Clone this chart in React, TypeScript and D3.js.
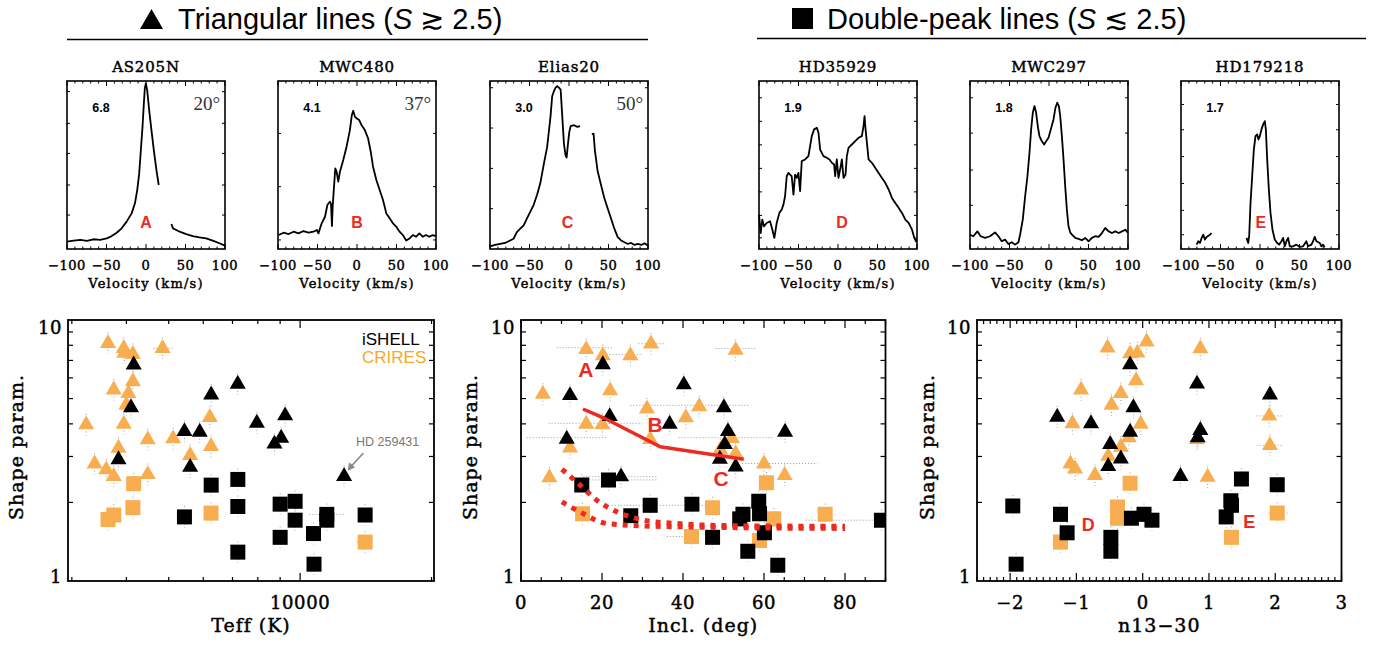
import React from 'react';
import * as d3 from 'd3';

type P = [number, number] | null;

const ORANGE = '#F8AE50';
const LEGEND_ORANGE = '#F9A825';
const RED = '#EC2A1F';
const SERIF = "'DejaVu Serif', serif";
const SANS = "'Liberation Sans', Arial, sans-serif";

// ---------- line profiles (velocity km/s, normalized flux) ----------
const profAS205N: P[] = [
  [-100, 0.044], [-91.6, 0.05], [-83.2, 0.054], [-74.8, 0.048], [-66.5, 0.058], [-58.1, 0.054], [-49.7, 0.063],
  [-43.4, 0.077], [-37.1, 0.097], [-30.8, 0.123], [-24.5, 0.163], [-18.2, 0.212], [-14.0, 0.272], [-11.1, 0.351],
  [-8.6, 0.45], [-6.5, 0.589], [-4.4, 0.728], [-2.7, 0.867], [-1.5, 0.956], [-0.2, 0.986], [1.5, 0.946], [4.0, 0.827],
  [6.9, 0.708], [9.9, 0.589], [13.2, 0.47], [16.1, 0.381], null,
  [32.1, 0.149], [34.2, 0.123], [38.4, 0.113], [42.6, 0.103], [50.9, 0.089], [59.3, 0.077], [67.7, 0.069],
  [76.1, 0.063], [84.5, 0.05], [92.9, 0.034], [100, 0.02],
];
const profMWC480: P[] = [
  [-99.2, 0.083], [-92.9, 0.097], [-86.6, 0.089], [-80.3, 0.103], [-74.0, 0.093], [-67.7, 0.107], [-61.4, 0.097],
  [-55.1, 0.103], [-50.9, 0.113], [-48.8, 0.093], [-44.7, 0.153], [-40.5, 0.192], [-37.5, 0.262], [-34.2, 0.282],
  [-32.9, 0.268], [-31.7, 0.137], [-30.8, 0.252], [-29.1, 0.371], [-27.5, 0.48], [-25.8, 0.46], [-23.7, 0.401],
  [-21.6, 0.46], [-17.4, 0.53], [-13.2, 0.609], [-9.0, 0.708], [-6.5, 0.798], [-4.8, 0.823], [-2.7, 0.788],
  [-0.6, 0.778], [2.7, 0.768], [5.7, 0.738], [9.9, 0.708], [14.0, 0.659], [17.4, 0.579], [20.3, 0.49], [24.5, 0.411],
  [28.7, 0.351], [32.9, 0.292], [37.1, 0.212], [41.3, 0.183], [45.5, 0.153], [49.7, 0.133], [53.9, 0.103],
  [58.1, 0.083], [62.3, 0.05], [66.5, 0.063], [70.7, 0.083], [74.8, 0.073], [79.0, 0.093], [83.2, 0.073],
  [87.4, 0.083], [91.6, 0.073], [95.8, 0.083], [100, 0.077],
];
const profElias20: P[] = [
  [-100, 0.016], [-93.6, 0.024], [-87.2, 0.03], [-80.9, 0.036], [-74.5, 0.051], [-70.2, 0.061], [-66.0, 0.101],
  [-61.7, 0.121], [-57.4, 0.141], [-53.2, 0.182], [-48.9, 0.222], [-44.7, 0.263], [-40.4, 0.323], [-36.2, 0.394],
  [-31.9, 0.505], [-27.7, 0.606], [-23.4, 0.788], [-21.3, 0.909], [-19.1, 0.939], [-17.0, 0.96], [-14.9, 0.97],
  [-12.8, 0.96], [-10.6, 0.949], [-8.5, 0.788], [-6.4, 0.626], [-4.3, 0.556], [-3.0, 0.545], [-1.3, 0.626],
  [0.4, 0.697], [2.1, 0.731], [6.4, 0.737], [10.6, 0.727], [14.0, 0.731], null,
  [28.9, 0.683], [31.1, 0.687], [32.8, 0.586], [36.2, 0.465], [40.4, 0.384], [44.7, 0.303], [48.9, 0.242],
  [53.2, 0.182], [57.4, 0.121], [61.7, 0.071], [66.0, 0.051], [70.2, 0.04], [74.5, 0.03], [78.7, 0.036],
  [83.0, 0.024], [87.2, 0.03], [91.5, 0.024], [95.7, 0.034], [100, 0.02],
];
const profHD35929: P[] = [
  [-100, 0.205], [-97.9, 0.095], [-95.8, 0.175], [-93.7, 0.135], [-90.3, 0.155], [-86.0, 0.165], [-83.1, 0.115],
  [-80.5, 0.066], [-77.6, 0.155], [-74.2, 0.215], [-71.2, 0.235], [-69.1, 0.264], [-67.0, 0.314], [-64.9, 0.433],
  [-62.8, 0.453], [-60.7, 0.443], [-58.6, 0.433], [-56.4, 0.324], [-54.3, 0.443], [-52.2, 0.423], [-50.1, 0.453],
  [-48.0, 0.344], [-45.9, 0.523], [-41.6, 0.533], [-37.4, 0.553], [-33.2, 0.672], [-30.2, 0.712], [-26.8, 0.722],
  [-24.7, 0.692], [-22.6, 0.592], [-18.4, 0.553], [-14.2, 0.543], [-10.8, 0.533], [-7.8, 0.513], [-4.9, 0.503],
  [-3.6, 0.433], [-1.5, 0.533], [0.6, 0.423], [2.7, 0.473], [4.9, 0.533], [7.0, 0.423], [9.5, 0.443], [11.2, 0.553],
  [13.3, 0.602], [15.4, 0.612], [17.5, 0.622], [21.8, 0.642], [26.0, 0.662], [30.2, 0.672], [32.3, 0.732],
  [33.6, 0.791], [34.9, 0.712], [38.7, 0.533], [42.9, 0.513], [47.1, 0.483], [51.4, 0.453], [55.6, 0.423],
  [59.8, 0.394], [64.1, 0.354], [68.3, 0.304], [72.5, 0.274], [76.7, 0.245], [81.0, 0.215], [85.2, 0.175],
  [89.4, 0.155], [93.7, 0.115], [96.6, 0.066], [98.7, 0.046], [100, 0.056],
];
const profMWC297: P[] = [
  [-100, 0.085], [-95.8, 0.076], [-90.7, 0.105], [-86.5, 0.076], [-81.0, 0.066], [-74.6, 0.076], [-68.3, 0.099],
  [-64.1, 0.076], [-59.8, 0.046], [-55.6, 0.056], [-51.4, 0.03], [-47.1, 0.04], [-42.9, 0.026], [-38.7, 0.04],
  [-36.6, 0.085], [-33.2, 0.175], [-30.2, 0.314], [-27.3, 0.433], [-24.7, 0.573], [-22.6, 0.712], [-20.5, 0.811],
  [-18.4, 0.851], [-16.3, 0.811], [-14.2, 0.732], [-12.1, 0.672], [-9.1, 0.642], [-6.1, 0.622], [-3.6, 0.642],
  [-0.6, 0.662], [2.3, 0.712], [5.7, 0.771], [8.2, 0.841], [10.4, 0.871], [12.5, 0.851], [14.2, 0.791],
  [16.3, 0.672], [18.4, 0.533], [20.5, 0.374], [22.6, 0.235], [24.7, 0.135], [26.8, 0.099], [29.0, 0.085],
  [33.2, 0.066], [37.4, 0.06], [41.6, 0.052], [45.9, 0.066], [50.1, 0.046], [54.3, 0.066], [58.6, 0.076],
  [62.8, 0.072], [67.0, 0.095], [71.2, 0.125], [75.5, 0.105], [79.7, 0.095], [83.9, 0.105], [88.2, 0.095],
  [92.4, 0.105], [96.6, 0.115], [100, 0.095],
];
const profHD179218: P[] = [
  [-80.2, 0.026], [-78.1, 0.046], [-76.0, 0.036], [-73.9, 0.066], [-71.8, 0.085], [-69.7, 0.056], [-67.6, 0.072],
  [-63.4, 0.085], [-61.3, 0.095], null,
  [-17.1, 0.066], [-14.9, 0.036], [-13.7, 0.076], [-12.0, 0.274], [-9.9, 0.433], [-7.8, 0.592], [-5.7, 0.672],
  [-3.6, 0.682], [-1.9, 0.652], [-0.2, 0.672], [1.9, 0.712], [4.0, 0.742], [6.1, 0.761], [7.4, 0.712], [9.1, 0.533],
  [11.2, 0.354], [13.3, 0.215], [15.8, 0.115], [18.7, 0.056], [21.7, 0.036], [24.2, 0.026], [27.2, 0.046],
  [29.3, 0.066], [31.4, 0.016], [33.5, 0.046], [35.6, 0.066], [37.7, 0.016], [41.9, 0.016], [46.1, 0.026],
  [50.3, 0.012], [54.5, 0.016], [58.7, 0.046], [60.8, 0.016], [65.1, 0.026], [67.2, 0.046], [69.3, 0.072],
  [71.4, 0.046], [75.6, 0.036], [77.7, 0.016], [79.8, 0.026], [81.9, 0.01],
];

const profileNames = ['AS205N', 'MWC480', 'Elias20', 'HD35929', 'MWC297', 'HD179218'];
const profileData = [profAS205N, profMWC480, profElias20, profHD35929, profMWC297, profHD179218];
const profileShape = ['6.8', '4.1', '3.0', '1.9', '1.8', '1.7'];
const profileIncl = ['20°', '37°', '50°', '', '', ''];
const profileLetter = ['A', 'B', 'C', 'D', '', 'E'];
const profileLetterVel = [0, 0, -2, 5, 0, 1];
const profileYTicks = [
  [0.202, 0.381, 0.569, 0.748, 0.937],
  [0.054, 0.371, 0.688],
  [0.24, 0.48, 0.72, 0.96],
  [0.066, 0.2, 0.34, 0.48, 0.62, 0.76, 0.9],
  [0.26, 0.47, 0.69, 0.9],
  [0.085, 0.23, 0.39, 0.55, 0.71, 0.86],
];
const velTicks = [-100, -50, 0, 50, 100];

// ---------- scatter data: [x, S] ----------
const teffTriCrires = [[3631, 8.14], [3945, 7.79], [3955, 7.46], [4140, 7.39], [4842, 7.79], [3742, 5.4], [4044, 5.24], [4140, 5.81], [4000, 4.73], [3236, 3.97], [3945, 3.99], [3837, 3.23], [4477, 3.48], [5119, 3.51], [6211, 4.24], [6250, 3.28], [5599, 3.03], [3383, 2.81], [3597, 2.67], [3742, 2.52], [4477, 2.56]];
const teffTriIshell = [[4157, 6.73], [4099, 4.62], [3837, 2.92], [5433, 3.74], [5889, 3.72], [6256, 5.17], [7196, 5.68], [5599, 2.73], [7960, 4.03], [9240, 4.3], [9048, 3.53], [8733, 3.35], [12610, 2.52]];
const teffSqCrires = [[4157, 2.36], [3742, 1.79], [3631, 1.72], [4140, 1.91], [6250, 1.82], [14090, 1.41]];
const teffSqIshell = [[6256, 2.33], [7200, 2.45], [5433, 1.76], [7200, 1.93], [7200, 1.29], [9000, 1.97], [9740, 2.02], [9740, 1.71], [9000, 1.47], [10730, 1.52], [11510, 1.8], [11510, 1.71], [10760, 1.16], [14090, 1.79]];
const teffErr = [[4617, 5128, 7.79], [10500, 12600, 1.8], [13470, 14720, 1.41]];

const inclTriCrires = [[16.1, 7.71], [20.2, 7.31], [27.0, 7.31], [32.1, 8.11], [53.0, 7.66], [5.4, 5.2], [22.0, 5.36], [31.1, 4.57], [44.0, 4.66], [40.7, 4.23], [16.1, 3.99], [20.1, 3.97], [12.1, 3.24], [31.9, 3.49], [49.2, 3.18], [52.1, 3.52], [53.0, 3.08], [60.0, 2.81], [7.0, 2.49], [65.1, 2.54]];
const inclTriIshell = [[20.2, 6.75], [12.1, 5.14], [21.9, 4.27], [36.7, 3.99], [40.2, 5.65], [50.1, 4.62], [11.3, 3.5], [51.1, 3.74], [50.3, 3.34], [49.1, 2.93], [53.0, 2.74], [65.2, 3.72], [24.7, 2.51]];
const inclSqCrires = [[15.2, 1.81], [60.6, 2.38], [47.3, 1.91], [62.4, 1.73], [42.1, 1.48], [58.9, 1.43], [75.1, 1.8]];
const inclSqIshell = [[15.0, 2.33], [21.6, 2.44], [27.1, 1.78], [31.9, 1.95], [42.2, 1.97], [47.3, 1.47], [54.0, 1.73], [54.8, 1.8], [58.7, 2.02], [58.9, 1.81], [60.1, 1.53], [56.0, 1.3], [63.4, 1.15], [89.0, 1.71]];
const inclErr = [[8.8, 22.8, 7.83], [20.4, 30.1, 7.38], [29.0, 35.2, 8.11], [48.0, 58.1, 7.78], [27.0, 56.2, 4.71], [6.8, 29.9, 4.02], [1.4, 21.2, 3.54], [38.9, 62.4, 3.54], [54.6, 73.2, 2.82], [15.4, 33.6, 2.51], [15.4, 33.6, 2.44], [22.4, 48.4, 1.95], [70.3, 88.0, 1.71], [36.0, 42.6, 1.48]];
const modelSolid = [[15.3, 4.56], [20.5, 4.21], [34.4, 3.27], [42.6, 3.13], [55, 2.93]];
const modelDotA = [[10.1, 2.68], [14.6, 2.33], [18.7, 2.04], [23.7, 1.84], [30.3, 1.71], [38.5, 1.66], [50.9, 1.63], [80, 1.62]];
const modelDotB = [[10.1, 2.01], [15.4, 1.81], [20.4, 1.67], [27.8, 1.63], [42.6, 1.61], [80, 1.59]];
const inclLetters = [['A', 16.0, 6.46], ['B', 33.1, 3.97], ['C', 49.4, 2.48]];

const nTriCrires = [[-0.53, 7.82], [-0.19, 7.43], [-0.08, 7.48], [0.06, 8.25], [0.87, 7.77], [-0.1, 5.86], [-0.93, 5.4], [-0.33, 5.24], [-0.47, 4.72], [-1.06, 4.01], [-0.03, 3.99], [1.91, 4.29], [1.92, 3.31], [-1.09, 2.81], [-1.02, 2.69], [-0.72, 2.54], [-0.52, 3.01], [-0.33, 3.26], [-0.21, 3.54], [0.98, 2.5], [0.82, 3.49]];
const nTriIshell = [[-0.19, 6.74], [-0.14, 4.62], [0.82, 5.69], [1.92, 5.17], [-1.29, 4.25], [-0.78, 4.01], [-0.19, 3.72], [-0.49, 3.34], [-0.33, 2.94], [-0.52, 2.75], [0.87, 3.78], [0.83, 3.54], [0.57, 2.52]];
const nSqCrires = [[-0.19, 2.37], [-0.38, 1.92], [-0.38, 1.74], [-1.24, 1.41], [1.34, 1.47], [2.03, 1.82]];
const nSqIshell = [[-1.96, 1.94], [-1.24, 1.8], [-1.14, 1.53], [-1.91, 1.16], [-0.48, 1.47], [-0.48, 1.3], [-0.17, 1.74], [0.02, 1.8], [0.14, 1.71], [1.33, 2.03], [1.34, 1.95], [1.26, 1.76], [1.49, 2.46], [2.03, 2.34]];
const nErr = [[1.72, 2.1, 4.29], [1.72, 2.1, 3.31], [1.9, 2.2, 1.82]];
const nLetters = [['D', -0.82, 1.64], ['E', 1.61, 1.69]];

const teffTicks = [10000];
const teffMinor = [3000, 4000, 5000, 6000, 7000, 8000, 9000, 20000];
const inclTicks = [0, 20, 40, 60, 80];
const nTicks = [-2, -1, 0, 1, 2, 3];
const sMinor = [2, 3, 4, 5, 6, 7, 8, 9];

// ---------- layout ----------
const TOP_Y = 81, TOP_H = 168, TOP_W = 158;
const topLefts = [67, 278, 490, 759, 970, 1181];
const BY0 = 320, BY1 = 581;

const triPath = d3.symbol().type(d3.symbolTriangle).size(112)() as string;
const sqPath = d3.symbol().type(d3.symbolSquare).size(225)() as string;
const fmt = (v: number) => (v < 0 ? '\u2212' + Math.abs(v) : String(v));

// IDL-like text: regular serif with a light outline to give the vector-font weight
const idl = (size: number, spacing: number) => ({
  fontFamily: SERIF,
  fontSize: size,
  letterSpacing: spacing,
  stroke: '#000',
  strokeWidth: 0.45,
  fill: '#000',
});

function TopPanel({ i }: { i: number }) {
  const left = topLefts[i];
  const x = d3.scaleLinear().domain([-100, 100]).range([left, left + TOP_W]);
  const y = d3.scaleLinear().domain([0, 1]).range([TOP_Y + TOP_H, TOP_Y]);
  const line = d3.line<P>().defined((d) => d !== null).x((d) => x((d as any)[0])).y((d) => y((d as any)[1]));
  const minor = d3.range(-90, 100, 10).filter((v) => v % 50 !== 0);
  return (
    <g>
      <text x={left + TOP_W / 2} y={72} textAnchor="middle" {...idl(15, 0.8)}>{profileNames[i]}</text>
      {velTicks.map((v) => (
        <g key={'M' + v}>
          <line x1={x(v)} x2={x(v)} y1={TOP_Y + TOP_H} y2={TOP_Y + TOP_H - 5} stroke="#000" />
          <line x1={x(v)} x2={x(v)} y1={TOP_Y} y2={TOP_Y + 5} stroke="#000" />
          <text x={x(v)} y={270} textAnchor="middle" {...idl(13, 0.5)}>{fmt(v)}</text>
        </g>
      ))}
      {minor.map((v) => (
        <g key={'m' + v}>
          <line x1={x(v)} x2={x(v)} y1={TOP_Y + TOP_H} y2={TOP_Y + TOP_H - 2.5} stroke="#000" />
          <line x1={x(v)} x2={x(v)} y1={TOP_Y} y2={TOP_Y + 2.5} stroke="#000" />
        </g>
      ))}
      {profileYTicks[i].map((v) => (
        <g key={'y' + v}>
          <line x1={left} x2={left + 3} y1={y(v)} y2={y(v)} stroke="#000" />
          <line x1={left + TOP_W} x2={left + TOP_W - 3} y1={y(v)} y2={y(v)} stroke="#000" />
        </g>
      ))}
      <path d={line(profileData[i]) || ''} fill="none" stroke="#000" strokeWidth={1.8} strokeLinejoin="round" />
      <rect x={left} y={TOP_Y} width={TOP_W} height={TOP_H} fill="none" stroke="#000" strokeWidth={1.6} />
      <text x={left + 34} y={112} textAnchor="middle" fontFamily={SANS} fontWeight="bold" fontSize={12.5}>{profileShape[i]}</text>
      {profileIncl[i] && (
        <text x={left + 153} y={110} textAnchor="end" fontFamily="'Liberation Serif', serif" fontSize={19} fill="#333">{profileIncl[i]}</text>
      )}
      {profileLetter[i] && (
        <text x={x(profileLetterVel[i])} y={228} textAnchor="middle" fontFamily={SANS} fontWeight="bold" fontSize={16} fill={RED}>{profileLetter[i]}</text>
      )}
      <text x={left + TOP_W / 2} y={288} textAnchor="middle" {...idl(13, 1.2)}>Velocity (km/s)</text>
    </g>
  );
}

function Markers({ data, x, y, shape, color }: any) {
  return (
    <g>
      {data.map((d: number[], k: number) => (
        <path key={k} d={shape === 'tri' ? triPath : sqPath} transform={`translate(${x(d[0])},${y(d[1])})`} fill={color} />
      ))}
    </g>
  );
}

function VErr({ data, x, y }: any) {
  return (
    <g>
      {data.map((d: number[], k: number) => (
        <line key={k} x1={x(d[0])} x2={x(d[0])} y1={y(d[1] * 1.1)} y2={y(d[1] / 1.1)} stroke="#999" strokeWidth={1} strokeDasharray="1,2.5" />
      ))}
    </g>
  );
}

function BottomPanel({ id, x0, x1, x, majors, majorLabels, minors, xlabel, ylabelX, err, groups, children }: any) {
  const y = d3.scaleLog().domain([1, 10]).range([BY1, BY0]);
  const allPts = groups.flatMap((g: any) => g.data);
  return (
    <g>
      <defs>
        <clipPath id={id}><rect x={x0} y={BY0} width={x1 - x0} height={BY1 - BY0} /></clipPath>
      </defs>
      <g clipPath={`url(#${id})`}>
        {err.map((e: number[], k: number) => (
          <line key={k} x1={x(e[0])} x2={x(e[1])} y1={y(e[2])} y2={y(e[2])} stroke="#999" strokeWidth={1} strokeDasharray="1,2" />
        ))}
        <VErr data={allPts} x={x} y={y} />
        {groups.map((g: any, k: number) => (
          <Markers key={k} data={g.data} x={x} y={y} shape={g.shape} color={g.color} />
        ))}
        {children && children(x, y)}
      </g>
      {majors.map((v: number, k: number) => (
        <g key={'M' + v}>
          <line x1={x(v)} x2={x(v)} y1={BY1} y2={BY1 - 8} stroke="#000" strokeWidth={1.2} />
          <line x1={x(v)} x2={x(v)} y1={BY0} y2={BY0 + 8} stroke="#000" strokeWidth={1.2} />
          <text x={x(v)} y={609} textAnchor="middle" {...idl(18, 0.6)}>{majorLabels[k]}</text>
        </g>
      ))}
      {minors.map((v: number) => (
        <g key={'m' + v}>
          <line x1={x(v)} x2={x(v)} y1={BY1} y2={BY1 - 4} stroke="#000" strokeWidth={1.2} />
          <line x1={x(v)} x2={x(v)} y1={BY0} y2={BY0 + 4} stroke="#000" strokeWidth={1.2} />
        </g>
      ))}
      {sMinor.map((v) => (
        <g key={'s' + v}>
          <line x1={x0} x2={x0 + 5} y1={y(v)} y2={y(v)} stroke="#000" strokeWidth={1.2} />
          <line x1={x1} x2={x1 - 5} y1={y(v)} y2={y(v)} stroke="#000" strokeWidth={1.2} />
        </g>
      ))}
      <text x={x0 - 6} y={y(10) + 14} textAnchor="end" {...idl(18, 0.5)}>10</text>
      <text x={x0 - 6} y={y(1) + 2} textAnchor="end" {...idl(18, 0.5)}>1</text>
      <rect x={x0} y={BY0} width={x1 - x0} height={BY1 - BY0} fill="none" stroke="#000" strokeWidth={1.8} />
      <text x={(x0 + x1) / 2} y={632} textAnchor="middle" {...idl(19, 1)}>{xlabel}</text>
      <text transform={`translate(${ylabelX},447) rotate(-90)`} textAnchor="middle" dominantBaseline="central" {...idl(19, 1)}>Shape param.</text>
    </g>
  );
}

export default function App() {
  const xTeff = d3.scaleLog().domain([2940, 20260]).range([68, 434]);
  const xIncl = d3.scaleLinear().domain([0, 90]).range([521, 885.5]);
  const xN = d3.scaleLinear().domain([-2.5, 3]).range([977, 1341.5]);
  const inclMinor = d3.range(0, 91, 5).filter((v) => v % 20 !== 0);
  const nMinor = d3.range(-25, 31, 1).map((v) => v / 10).filter((v) => Math.abs(v - Math.round(v)) > 0.01);

  const groupsOf = (tc: any, sc: any, ti: any, si: any) => [
    { data: tc, shape: 'tri', color: ORANGE },
    { data: sc, shape: 'sq', color: ORANGE },
    { data: ti, shape: 'tri', color: '#000' },
    { data: si, shape: 'sq', color: '#000' },
  ];

  const lineGen = (x: any, y: any, curve: any) => d3.line<number[]>().x((d) => x(d[0])).y((d) => y(d[1])).curve(curve);

  return (
    <svg width={1380} height={645} style={{ position: 'absolute', left: 0, top: 0, background: '#fff' }}>
      {/* group titles */}
      <path d="M140,29 L151.5,9 L163,29 Z" fill="#000" />
      <text x={178} y={29} fontFamily={SANS} fontSize={29}>
        Triangular lines (<tspan fontStyle="italic">S</tspan> {'\u2273'} 2.5)
      </text>
      <line x1={67} x2={648} y1={39.5} y2={39.5} stroke="#000" strokeWidth={1.5} />
      <rect x={792} y={8} width={21} height={21} fill="#000" />
      <text x={827} y={29} fontFamily={SANS} fontSize={29}>
        Double-peak lines (<tspan fontStyle="italic">S</tspan> {'\u2272'} 2.5)
      </text>
      <line x1={757} x2={1366} y1={38.5} y2={38.5} stroke="#000" strokeWidth={1.5} />

      {profileNames.map((_, i) => <TopPanel key={i} i={i} />)}

      <BottomPanel id="c1" x0={68} x1={434} x={xTeff} majors={teffTicks} majorLabels={['10000']} minors={teffMinor}
        xlabel="Teff (K)" ylabelX={16} err={teffErr} groups={groupsOf(teffTriCrires, teffSqCrires, teffTriIshell, teffSqIshell)}>
        {(x: any, y: any) => (
          <g>
            <text x={362} y={345} fontFamily={SANS} fontSize={17} fill="#000">iSHELL</text>
            <text x={362} y={363} fontFamily={SANS} fontSize={17} fill={LEGEND_ORANGE}>CRIRES</text>
            <text x={x(13430)} y={y(3.28)} fontFamily={SANS} fontSize={12.5} fill="#777">HD 259431</text>
            <line x1={x(13960)} y1={y(3.09)} x2={x(12950)} y2={y(2.7)} stroke="#888" strokeWidth={1.5} />
            <path d={`M${x(12900)},${y(2.66)} l1,-7 l5,4 Z`} fill="#888" stroke="#888" strokeWidth={1} />
          </g>
        )}
      </BottomPanel>

      <BottomPanel id="c2" x0={521} x1={885.5} x={xIncl} majors={inclTicks} majorLabels={inclTicks.map(String)} minors={inclMinor}
        xlabel="Incl. (deg)" ylabelX={470} err={inclErr} groups={groupsOf(inclTriCrires, inclSqCrires, inclTriIshell, inclSqIshell)}>
        {(x: any, y: any) => (
          <g>
            <path d={lineGen(x, y, d3.curveLinear)(modelSolid as any) || ''} fill="none" stroke={RED} strokeWidth={3.5} />
            <path d={lineGen(x, y, d3.curveMonotoneX)(modelDotA as any) || ''} fill="none" stroke={RED} strokeWidth={5} strokeDasharray="5,6" />
            <path d={lineGen(x, y, d3.curveMonotoneX)(modelDotB as any) || ''} fill="none" stroke={RED} strokeWidth={5} strokeDasharray="5,6" />
            {inclLetters.map((l: any) => (
              <text key={l[0]} x={x(l[1])} y={y(l[2])} textAnchor="middle" dominantBaseline="central" fontFamily={SANS} fontWeight="bold" fontSize={21} fill={RED}>{l[0]}</text>
            ))}
          </g>
        )}
      </BottomPanel>

      <BottomPanel id="c3" x0={977} x1={1341.5} x={xN} majors={nTicks} majorLabels={nTicks.map(fmt)} minors={nMinor}
        xlabel={'n13\u221230'} ylabelX={927} err={nErr} groups={groupsOf(nTriCrires, nSqCrires, nTriIshell, nSqIshell)}>
        {(x: any, y: any) => (
          <g>
            {nLetters.map((l: any) => (
              <text key={l[0]} x={x(l[1])} y={y(l[2])} textAnchor="middle" dominantBaseline="central" fontFamily={SANS} fontWeight="bold" fontSize={18} fill={RED}>{l[0]}</text>
            ))}
          </g>
        )}
      </BottomPanel>
    </svg>
  );
}
